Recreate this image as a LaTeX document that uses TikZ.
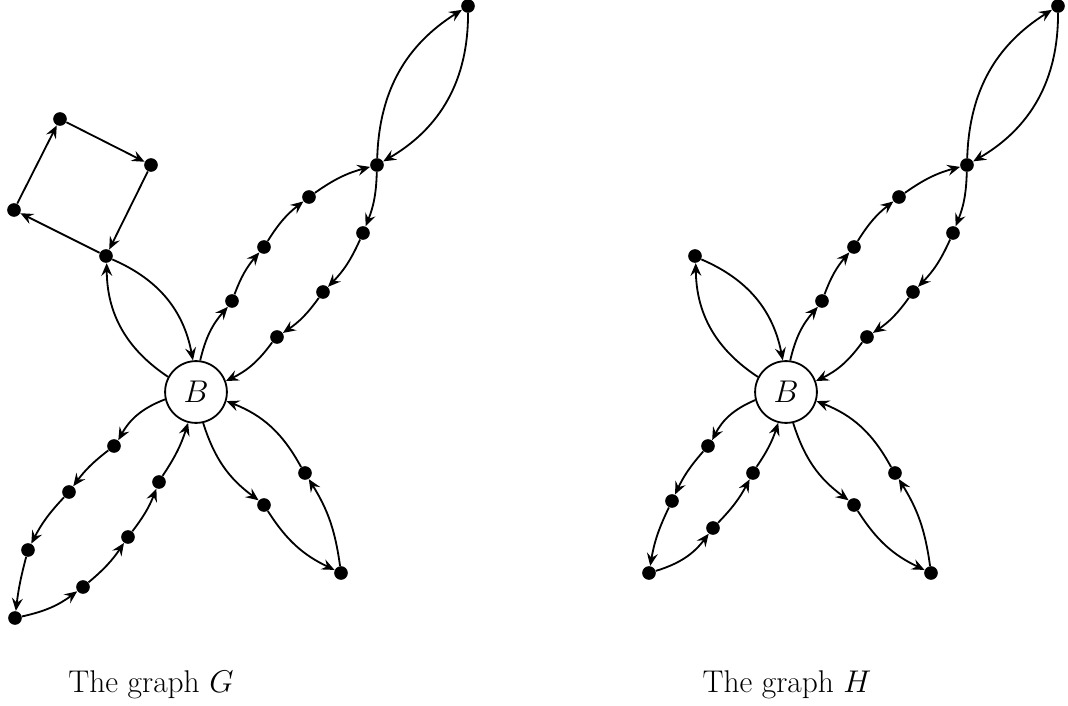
\documentclass[tikz,border=0pt]{standalone}
\usetikzlibrary{arrows.meta}
\begin{document}
\begin{tikzpicture}[x=0.55pt,y=-0.55pt,
  dot/.style={circle,fill=black,inner sep=0pt,minimum size=7.5pt},
  bnode/.style={circle,draw,line width=1pt,minimum size=34pt,inner sep=0pt,font=\LARGE},
  arc/.style={line width=1pt,-{Stealth[length=7pt,width=6pt,inset=2.5pt]}},
  lbl/.style={font=\LARGE,anchor=base}]
\useasboundingbox (0,0) rectangle (1068,706);
% ---------- Graph G ----------
\node[bnode] (B) at (196,392) {$B$};
\node[dot] (s1) at (60,119) {};
\node[dot] (s2) at (151,165) {};
\node[dot] (s3) at (14,210) {};
\node[dot] (s4) at (106,256) {};
\node[dot] (u1) at (232,301) {};
\node[dot] (u2) at (264,247) {};
\node[dot] (u3) at (309,197) {};
\node[dot] (m) at (377,165) {};
\node[dot] (t) at (468,6) {};
\node[dot] (d1) at (363,233) {};
\node[dot] (d2) at (323,292) {};
\node[dot] (d3) at (277,337) {};
\node[dot] (l1) at (114,446) {};
\node[dot] (l2) at (69,492) {};
\node[dot] (l3) at (28,550) {};
\node[dot] (l4) at (15,618) {};
\node[dot] (l5) at (83,587) {};
\node[dot] (l6) at (128,537) {};
\node[dot] (l7) at (159,482) {};
\node[dot] (r1) at (264,505) {};
\node[dot] (r2) at (341,573) {};
\node[dot] (r3) at (305,473) {};
\draw[arc] (s1) -- (s2);
\draw[arc] (s2) -- (s4);
\draw[arc] (s4) -- (s3);
\draw[arc] (s3) -- (s1);
\draw[arc] (B) to[bend left=28] (s4);
\draw[arc] (s4) to[bend left=28] (B);
\draw[arc] (B) to[bend left=14] (u1);
\draw[arc] (u1) to[bend left=10] (u2);
\draw[arc] (u2) to[bend left=10] (u3);
\draw[arc] (u3) to[bend left=10] (m);
\draw[arc] (m) to[bend left=28] (t);
\draw[arc] (t) to[bend left=30] (m);
\draw[arc] (m) to[bend left=10] (d1);
\draw[arc] (d1) to[bend left=10] (d2);
\draw[arc] (d2) to[bend left=10] (d3);
\draw[arc] (d3) to[bend left=14] (B);
\draw[arc] (B) to[bend right=20] (l1);
\draw[arc] (l1) to[bend right=8] (l2);
\draw[arc] (l2) to[bend right=8] (l3);
\draw[arc] (l3) to[bend right=4] (l4);
\draw[arc] (l4) to[bend right=12] (l5);
\draw[arc] (l5) to[bend right=8] (l6);
\draw[arc] (l6) to[bend right=8] (l7);
\draw[arc] (l7) to[bend right=8] (B);
\draw[arc] (B) to[bend right=18] (r1);
\draw[arc] (r1) to[bend right=16] (r2);
\draw[arc] (r2) to[bend right=12] (r3);
\draw[arc] (r3) to[bend right=20] (B);
\node[lbl] (lg) at (151,692) {The graph $G$};
% ---------- Graph H ----------
\node[bnode] (HB) at (786,392) {$B$};
\node[dot] (hs) at (695,256) {};
\node[dot] (hu1) at (822,301) {};
\node[dot] (hu2) at (854,247) {};
\node[dot] (hu3) at (899,197) {};
\node[dot] (hm) at (967,165) {};
\node[dot] (ht) at (1058,6) {};
\node[dot] (hd1) at (953,233) {};
\node[dot] (hd2) at (913,292) {};
\node[dot] (hd3) at (867,337) {};
\node[dot] (ha1) at (708,446) {};
\node[dot] (ha2) at (672,501) {};
\node[dot] (ha3) at (649,573) {};
\node[dot] (ha4) at (713,528) {};
\node[dot] (ha5) at (753,473) {};
\node[dot] (hr1) at (854,505) {};
\node[dot] (hr2) at (931,573) {};
\node[dot] (hr3) at (895,473) {};
\draw[arc] (HB) to[bend left=28] (hs);
\draw[arc] (hs) to[bend left=28] (HB);
\draw[arc] (HB) to[bend left=14] (hu1);
\draw[arc] (hu1) to[bend left=10] (hu2);
\draw[arc] (hu2) to[bend left=10] (hu3);
\draw[arc] (hu3) to[bend left=10] (hm);
\draw[arc] (hm) to[bend left=28] (ht);
\draw[arc] (ht) to[bend left=30] (hm);
\draw[arc] (hm) to[bend left=10] (hd1);
\draw[arc] (hd1) to[bend left=10] (hd2);
\draw[arc] (hd2) to[bend left=10] (hd3);
\draw[arc] (hd3) to[bend left=14] (HB);
\draw[arc] (HB) to[bend right=20] (ha1);
\draw[arc] (ha1) to[bend right=8] (ha2);
\draw[arc] (ha2) to[bend right=8] (ha3);
\draw[arc] (ha3) to[bend right=18] (ha4);
\draw[arc] (ha4) to[bend right=8] (ha5);
\draw[arc] (ha5) to[bend right=8] (HB);
\draw[arc] (HB) to[bend right=18] (hr1);
\draw[arc] (hr1) to[bend right=16] (hr2);
\draw[arc] (hr2) to[bend right=12] (hr3);
\draw[arc] (hr3) to[bend right=20] (HB);
\node[lbl] (lh) at (787,692) {The graph $H$};
\end{tikzpicture}
\end{document}
